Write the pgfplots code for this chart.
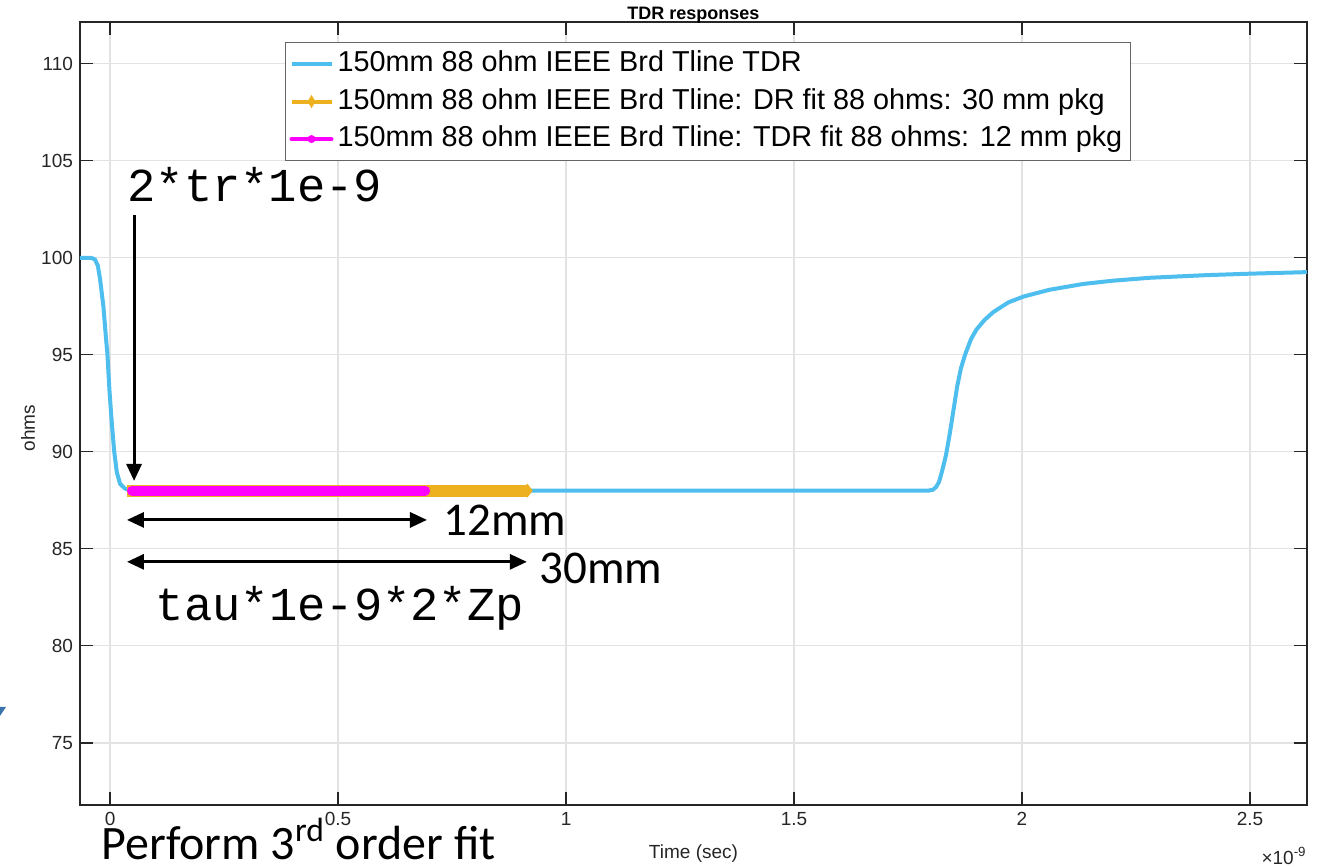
\documentclass[border=0pt]{standalone}
\usepackage{pgfplots}
\pgfplotsset{compat=1.18}
\usepackage{fontspec}
\setmainfont{Liberation Sans}
\newfontfamily\monofont{Liberation Mono}
\newfontfamily\calfont{Carlito}
\usetikzlibrary{arrows.meta}
\definecolor{mlblue}{rgb}{0.301,0.745,0.933}
\definecolor{mlorange}{rgb}{0.929,0.694,0.125}
\definecolor{mlmag}{rgb}{1,0,1}
\definecolor{axgray}{HTML}{262626}
\definecolor{gridgray}{HTML}{E3E3E3}
\definecolor{fragblue}{HTML}{3B73AD}
\begin{document}
\begin{tikzpicture}
\begin{axis}[
  scale only axis, width=613.5pt, height=391.5pt,
  xmin=-0.066, xmax=2.625, ymin=71.8, ymax=112.15,
  xtick={0,0.5,1,1.5,2,2.5}, xticklabels={0,0.5,1,1.5,2,2.5},
  ytick={75,80,85,90,95,100,105,110},
  grid=major, major grid style={gridgray, line width=0.6pt},
  tick style={axgray, line width=0.6pt}, major tick length=6.5pt,
  axis line style={axgray, line width=0.6pt},
  tick label style={font=\fontsize{9.5}{10}\selectfont, text=axgray},
  /pgf/number format/assume math mode=true,
  xlabel={Time (sec)},
  xlabel style={font=\fontsize{9.5}{10}\selectfont, text=axgray, at={(rel axis cs:0.5,-0.0677)}, anchor=base, inner sep=0pt},
  ylabel={ohms},
  ylabel style={font=\fontsize{9.5}{10}\selectfont, text=axgray, at={(rel axis cs:-0.0424,0.4815)}, anchor=center, rotate=0},
  clip=false,
  legend style={at={(rel axis cs:0.167,0.9745)}, anchor=north west, draw=black!60, line width=0.6pt,
    font=\fontsize{14.4}{17}\selectfont, cells={anchor=west}, row sep=1.25pt,
    nodes={text height=10.5pt, text depth=3pt, inner sep=2pt}, inner xsep=2pt, inner ysep=2pt},
]
\addplot[mlblue, line width=2pt, line join=round,
  legend image code/.code={\draw[mlblue,line width=2pt] (0pt,0pt)--(20pt,0pt);}]
coordinates {
(-0.066,100.0) (-0.045,100.0) (-0.038,99.97) (-0.033,99.9) (-0.027,99.6) (-0.022,98.9)
(-0.0147,97.5) (-0.0088,95.8) (-0.0059,95.05) (-0.0015,93.2) (0.0037,91.5) (0.0088,90.07)
(0.0147,88.95) (0.0219,88.35) (0.0329,88.1) (0.045,88.02) (0.1,88.0) (1.0,88.0) (1.795,88.0)
(1.805,88.05) (1.812,88.2) (1.818,88.45) (1.824,88.95) (1.833,89.8) (1.842,91.0) (1.850,92.2)
(1.858,93.4) (1.866,94.3) (1.875,95.0) (1.888,95.8) (1.900,96.3) (1.918,96.8) (1.937,97.2)
(1.97,97.7) (2.003,98.0) (2.06,98.35) (2.134,98.65) (2.2,98.82) (2.281,98.97) (2.4,99.1)
(2.5,99.18) (2.625,99.26)
};
\addlegendentry{150mm 88 ohm IEEE Brd Tline TDR}
\addplot[mlorange, line width=6pt,
  legend image code/.code={\draw[mlorange,line width=2pt] (0pt,0pt)--(20pt,0pt);
    \path[fill=mlorange, draw=none, line width=0pt] (10pt,3.3pt)--(12pt,0pt)--(10pt,-3.3pt)--(8pt,0pt)--cycle;}]
coordinates {(0.037,88) (0.915,88)};
\addlegendentry{150mm 88 ohm IEEE Brd Tline: DR fit 88 ohms: 30 mm pkg}
\addplot[forget plot, only marks, mark=diamond*, mark size=3.2pt, mlorange] coordinates {(0.915,88)};
\addplot[mlmag, line width=5pt, line cap=round,
  legend image code/.code={\draw[mlmag,line width=2pt] (0pt,0pt)--(20pt,0pt);
    \path[fill=mlmag, draw=none, line width=0pt] (10pt,0pt) circle (2pt);}]
coordinates {(0.048,88) (0.691,88)};
\addlegendentry{150mm 88 ohm IEEE Brd Tline: TDR fit 88 ohms: 12 mm pkg}

\draw[line width=1.5pt, -{Triangle[length=8.5pt,width=7.5pt]}] (axis cs:0.0526,102.2) -- (axis cs:0.0526,88.5);
\draw[line width=1.5pt, {Triangle[length=8.5pt,width=7.5pt]}-{Triangle[length=8.5pt,width=7.5pt]}] (axis cs:0.037,86.49) -- (axis cs:0.695,86.49);
\draw[line width=1.5pt, {Triangle[length=8.5pt,width=7.5pt]}-{Triangle[length=8.5pt,width=7.5pt]}] (axis cs:0.037,84.33) -- (axis cs:0.914,84.33);

\node[anchor=base, inner sep=0pt, font=\bfseries\fontsize{9}{10}\selectfont] at (rel axis cs:0.5,1.0035) {TDR responses};
\node[anchor=base west, inner sep=0pt, font=\monofont\fontsize{23.6}{28}\selectfont] at (axis cs:0.037,102.89) {2*tr*1e-9};
\node[anchor=base west, inner sep=0pt, font=\monofont\fontsize{23.6}{28}\selectfont] at (axis cs:0.0993,81.29) {tau*1e-9*2*Zp};
\node[anchor=base west, inner sep=0pt, font=\calfont\fontsize{23.5}{28}\selectfont] at (axis cs:0.730,85.67) {12mm};
\node[anchor=base west, inner sep=0pt, font=\calfont\fontsize{23.5}{28}\selectfont] at (axis cs:0.941,83.2) {30mm};
\node[anchor=base west, inner sep=0pt, font=\calfont\fontsize{24}{28}\selectfont] at (axis cs:-0.0197,68.97) {Perform 3\textsuperscript{rd} order fit};
\node[anchor=base east, inner sep=0pt, font=\fontsize{9.5}{10}\selectfont, text=axgray] at (rel axis cs:1.0,-0.0754) {×10\textsuperscript{-9}};
\end{axis}
\fill[fragblue] (-40pt,49pt)--(-37pt,49pt)--(-40pt,44.5pt)--cycle;
\pgfresetboundingbox
\path[use as bounding box] (-40pt,-31pt) rectangle (618.5pt,402.5pt);
\end{tikzpicture}
\end{document}
